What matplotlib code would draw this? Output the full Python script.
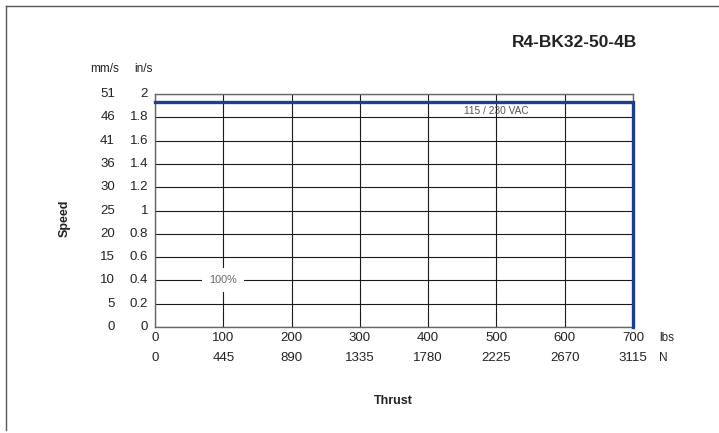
import matplotlib
matplotlib.use("Agg")
import matplotlib.pyplot as plt
from matplotlib.lines import Line2D

# --- data ---
thrust_lbs = [0, 100, 200, 300, 400, 500, 600, 700]
thrust_n = [0, 445, 890, 1335, 1780, 2225, 2670, 3115]
speed_ins = [0, 0.2, 0.4, 0.6, 0.8, 1.0, 1.2, 1.4, 1.6, 1.8, 2.0]
speed_ins_labels = ["0", "0.2", "0.4", "0.6", "0.8", "1", "1.2", "1.4", "1.6", "1.8", "2"]
speed_mms = [0, 5, 10, 15, 20, 25, 30, 36, 41, 46, 51]

# 100% duty curve, 115/230 VAC
curve_lbs = [0, 700, 700]
curve_ins = [1.934, 1.934, 0]

plt.rcParams["font.family"] = ["Liberation Sans", "DejaVu Sans"]
TXT = "#222222"
BLUE = "#1d3d8f"
TICK_FS = 9.5
UNIT_FS = 8.5

fig = plt.figure(figsize=(7.19, 4.33), dpi=100)
ax = fig.add_axes([0.2156, 0.2448, 0.6648, 0.5381])

ax.set_xlim(0, 700)
ax.set_ylim(0, 2)
ax.set_xticks(thrust_lbs)
ax.set_yticks(speed_ins)
ax.tick_params(length=0, labelbottom=False, labelleft=False)
ax.grid(True, color="#1a1a1a", lw=0.8)
for s in ["top", "bottom", "left", "right"]:
    ax.spines[s].set_color("#666666")
    ax.spines[s].set_linewidth(1.0)

ax.plot(curve_lbs, curve_ins, color=BLUE, lw=2.4, solid_joinstyle="miter", zorder=5, clip_on=False)

# curve labels
ax.text(100, 0.4, "100%", fontsize=7.8, color="#666666", ha="center", va="center",
        bbox=dict(facecolor="white", edgecolor="none", pad=5), zorder=4)
ax.text(500, 1.85, "115 / 230 VAC", fontsize=7.3, color="#555555", ha="center", va="center",
        zorder=4)

# y tick labels (two unit columns)
ytr = ax.get_yaxis_transform()
for v, lab, mm in zip(speed_ins, speed_ins_labels, speed_mms):
    ax.text(-0.0146, v, lab, transform=ytr, ha="right", va="center", fontsize=TICK_FS, color=TXT)
    ax.text(-0.0837, v, str(mm), transform=ytr, ha="right", va="center", fontsize=TICK_FS, color=TXT)
ax.text(-0.105, 1.107, "mm/s", transform=ax.transAxes, ha="center", va="center", fontsize=UNIT_FS, color=TXT)
ax.text(-0.025, 1.107, "in/s", transform=ax.transAxes, ha="center", va="center", fontsize=UNIT_FS, color=TXT)

# x tick labels (two unit rows)
xtr = ax.get_xaxis_transform()
for lb, n in zip(thrust_lbs, thrust_n):
    ax.text(lb, -0.047, str(lb), transform=xtr, ha="center", va="center", fontsize=TICK_FS, color=TXT)
    ax.text(lb, -0.133, str(n), transform=xtr, ha="center", va="center", fontsize=TICK_FS, color=TXT)
ax.text(1.054, -0.047, "lbs", transform=ax.transAxes, ha="left", va="center", fontsize=UNIT_FS, color=TXT)
ax.text(1.054, -0.133, "N", transform=ax.transAxes, ha="left", va="center", fontsize=UNIT_FS, color=TXT)

ax.text(-0.188, 0.468, "Speed", transform=ax.transAxes, rotation=90, ha="center", va="center",
        fontsize=9, weight="bold", color=TXT)
ax.text(0.498, -0.318, "Thrust", transform=ax.transAxes, ha="center", va="center",
        fontsize=9, weight="bold", color=TXT)

fig.text(0.886, 0.901, "R4-BK32-50-4B", ha="right", va="center", fontsize=12.5, weight="bold", color=TXT)

# page border (top and left only)
fig.add_artist(Line2D([6 / 719, 1], [1 - 6 / 433] * 2, transform=fig.transFigure, color="#555555", lw=1))
fig.add_artist(Line2D([6 / 719] * 2, [1 - 6 / 433, 1 - 430 / 433], transform=fig.transFigure, color="#555555", lw=1))

fig.savefig("out.png", dpi=100)
